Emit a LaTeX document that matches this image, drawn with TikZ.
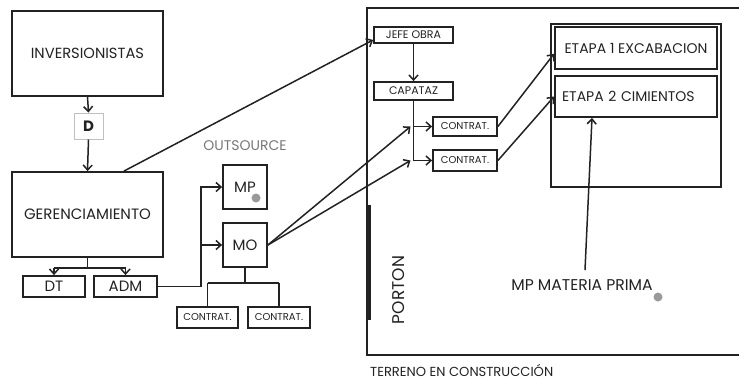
\documentclass[tikz,border=0pt]{standalone}
\usepackage{fontspec}
\setmainfont{Poppins}
\usetikzlibrary{arrows.meta}
\definecolor{ink}{HTML}{222222}
\definecolor{dotgray}{HTML}{9A9A9A}
\definecolor{softgray}{HTML}{777777}
\definecolor{lightframe}{HTML}{C0C0C0}
\newcommand{\bigtxt}{\fontsize{15}{17}\selectfont}
\newcommand{\midtxt}{\fontsize{14}{16}\selectfont}
\newcommand{\smltxt}{\fontsize{11}{13}\selectfont}
\newcommand{\tinytxt}{\fontsize{10}{12}\selectfont}
\newcommand{\captxt}{\fontsize{14}{16}\selectfont}
\tikzset{
  box/.style={draw=ink, line width=1.8pt, inner sep=0pt, text=ink},
  arr/.style={draw=ink, line width=1.5pt, -{Straight Barb[length=5pt,width=9pt]}},
  lin/.style={draw=ink, line width=1.5pt},
}
\begin{document}
\begin{tikzpicture}[x=1pt,y=-1pt]
    \useasboundingbox (0,0) rectangle (739,380);
    % left: inversionistas and gerenciamiento
    \node[box, minimum width=151pt, minimum height=85pt, font=\fontsize{14.7}{17}\selectfont] (inv) at (87.5,53.5) {INVERSIONISTAS};
    \node[box, draw=lightframe, line width=1pt, minimum width=29pt, minimum height=26pt, font=\bigtxt\bfseries] (d) at (88.5,126) {D};
    \node[box, minimum width=151pt, minimum height=85pt, font=\bigtxt] (ger) at (87.5,214.5) {GERENCIAMIENTO};
    \node[box, minimum width=62pt, minimum height=21pt, font=\bigtxt] (dt) at (54,286.5) {DT};
    \node[box, minimum width=63pt, minimum height=21pt, font=\bigtxt] (adm) at (125.5,286.5) {ADM};
    \draw[arr] (inv.south) -- (d.north);
    \draw[arr] (d.south) -- (ger.north);
    \draw[lin] (ger.south) -- ++(0,10) coordinate (gsplit);
    \draw[lin] (dt.north |- gsplit) -- (adm.north |- gsplit);
    \draw[arr] (dt.north |- gsplit) -- (dt.north);
    \draw[arr] (adm.north |- gsplit) -- (adm.north);
    % outsource
    \node[font=\captxt, text=softgray] (outsrc) at (245,146) {OUTSOURCE};
    \node[box, minimum size=44pt, font=\bigtxt] (mp) at (245,187) {MP};
    \node[box, minimum size=44pt, font=\bigtxt] (mo) at (245,245) {MO};
    \fill[dotgray] (256,198) circle (4.5pt);
    \node[box, minimum width=61pt, minimum height=21pt, font=\tinytxt] (c3) at (207.5,317.5) {CONTRAT.};
    \node[box, minimum width=62pt, minimum height=21pt, font=\tinytxt] (c4) at (279,317.5) {CONTRAT.};
    \coordinate (split) at ([xshift=43pt]adm.east);
    \draw[arr] (adm.east) -- (split) |- (mp.west);
    \draw[arr] (mo.west -| split) -- (mo.west);
    \draw[lin] (mo.south) -- ++(0,15) coordinate (msplit);
    \draw[lin] (c3.north |- msplit) -- (c4.north |- msplit);
    \draw[lin] (c3.north |- msplit) -- (c3.north);
    \draw[lin] (c4.north |- msplit) -- (c4.north);
    % terreno
    \draw[ink, line width=1.8pt] (739,8) -- (367,8) -- (367,355) -- (739,355);
    \draw[ink, line width=3.5pt] (369,205) -- (369,320);
    \node[rotate=90, font=\fontsize{17}{19}\selectfont, text=ink] (porton) at (399,290) {PORTON};
    \node[anchor=base west, inner sep=0pt, font=\fontsize{13.1}{15}\selectfont, text=ink] (terreno) at (370,376) {TERRENO EN CONSTRUCCIÓN};
    \node[box, minimum width=79pt, minimum height=16pt, font=\smltxt] (jefe) at (413.5,35) {JEFE OBRA};
    \node[box, minimum width=79pt, minimum height=18pt, font=\smltxt] (capataz) at (413.5,91) {CAPATAZ};
    \node[box, minimum width=64pt, minimum height=19pt, font=\tinytxt] (c1) at (465,126.5) {CONTRAT.};
    \node[box, minimum width=64pt, minimum height=21pt, font=\tinytxt] (c2) at (465,160.5) {CONTRAT.};
    \draw[arr] (ger.50) -- (jefe.187);
    \draw[arr] (jefe.south) -- (capataz.north);
    \coordinate (k1) at (capataz.south |- c1.west);
    \coordinate (k2) at (capataz.south |- c2.west);
    \draw[lin] (capataz.south) -- (k2);
    \draw[arr] (k1) -- (c1.west);
    \draw[arr] (k2) -- (c2.west);
    \draw[arr] (mo.east) -- ([xshift=-3pt]k1);
    \draw[arr] (mo.east) -- ([xshift=-3pt]k2);
    % etapas
    \node[box, minimum width=170pt, minimum height=163pt] (etapas) at (636,105.5) {};
    \node[box, minimum width=162pt, minimum height=42pt, font=\midtxt] (e1) at (636,48) {ETAPA 1 EXCABACION};
    \node[box, minimum width=162pt, minimum height=41pt, text width=148pt, align=left, font=\midtxt] (e2) at (636,96.5) {ETAPA 2 CIMIENTOS};
    \draw[arr] (c1.east) -- (e1.184);
    \draw[arr] (c2.east) -- (e2.west);
    \node[font=\fontsize{15.6}{17}\selectfont, text=ink] (mpm) at (582,285) {MP MATERIA PRIMA};
    \fill[dotgray] (658,297) circle (4.5pt);
    \draw[arr] ([xshift=3pt,yshift=6pt]mpm.north) -- ([xshift=-44pt]e2.south);
\end{tikzpicture}
\end{document}
